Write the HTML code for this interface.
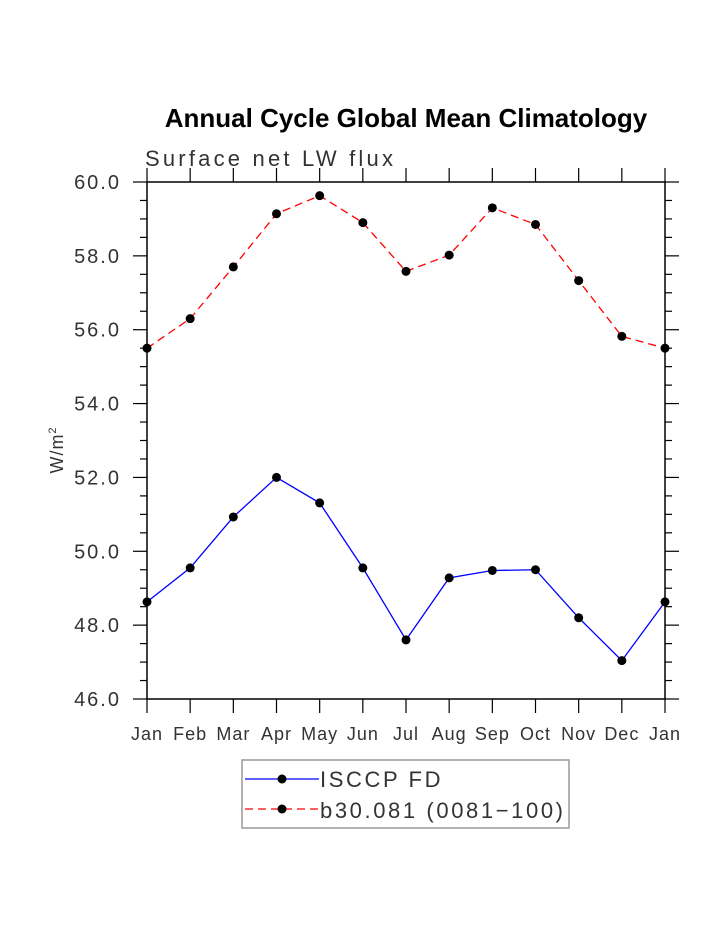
<!DOCTYPE html>
<html><head><meta charset="utf-8"><style>
body{margin:0;background:#fff}
svg text{font-family:"Liberation Sans","DejaVu Sans",sans-serif}
</style></head><body>
<svg id="chart" width="723" height="935" xmlns="http://www.w3.org/2000/svg">
<text x="406" y="127" text-anchor="middle" font-size="26" font-weight="bold">Annual Cycle Global Mean Climatology</text>
<text x="145" y="166" font-size="22" fill="#333" style="letter-spacing:3.2px">Surface net LW flux</text>
<text transform="translate(63,450) rotate(-90)" text-anchor="middle" font-size="18" fill="#333" style="letter-spacing:1px">W/m<tspan dy="-7" font-size="11">2</tspan></text>
<g id="axes"></g>
<g id="series"></g>
<rect x="242" y="760" width="327" height="68" fill="none" stroke="#999" stroke-width="1.5"/>
<g>
<line x1="245" y1="779" x2="319" y2="779" stroke="#00f" stroke-width="1.3"/>
<circle cx="282" cy="779" r="4.5" fill="#000"/>
<text x="320" y="787" font-size="22" fill="#333" style="letter-spacing:2.6px">ISCCP FD</text></g>
<g>
<line x1="245" y1="809" x2="319" y2="809" stroke="#f00" stroke-width="1.3" stroke-dasharray="8,5"/>
<circle cx="282" cy="809" r="4.5" fill="#000"/>
<text x="320" y="818" font-size="22" fill="#333" style="letter-spacing:2.6px">b30.081 (0081−100)</text></g>
</svg>
<script>
const months=["Jan","Feb","Mar","Apr","May","Jun","Jul","Aug","Sep","Oct","Nov","Dec","Jan"];
const isccp=[48.63,49.55,50.93,52.0,51.31,49.55,47.6,49.28,49.48,49.5,48.2,47.04,48.63];
const b30=[55.5,56.3,57.7,59.14,59.63,58.9,57.58,58.02,59.3,58.85,57.33,55.82,55.5];
const yTicks=[46,48,50,52,54,56,58,60];
const NS="http://www.w3.org/2000/svg";
const X0=147,X1=665,Y0=699,Y1=182,YMIN=46,YMAX=60;
const xs=i=>X0+(X1-X0)*i/(months.length-1);
const ys=v=>Y0-(v-YMIN)/(YMAX-YMIN)*(Y0-Y1);
function mk(t,a,p){const e=document.createElementNS(NS,t);for(const k in a)e.setAttribute(k,a[k]);p.appendChild(e);return e;}
const ax=document.getElementById('axes');
const fr=mk('rect',{x:X0,y:Y1,width:X1-X0,height:Y0-Y1,fill:'none',stroke:'#000','stroke-width':1.5},ax);


for(let v=YMIN;v<=YMAX+1e-9;v+=0.5){const maj=Math.abs(v/2-Math.round(v/2))<1e-9;const L=maj?14:7;
mk('line',{x1:X0-L,x2:X0,y1:ys(v),y2:ys(v),stroke:'#000','stroke-width':1.2},ax);
mk('line',{x1:X1,x2:X1+L,y1:ys(v),y2:ys(v),stroke:'#000','stroke-width':1.2},ax);}
yTicks.forEach(v=>{const t=mk('text',{x:121,y:ys(v)+7,'text-anchor':'end','font-size':20,fill:'#333',style:'letter-spacing:2px'},ax);t.textContent=v.toFixed(1);

});
months.forEach((m,i)=>{const x=xs(i);
mk('line',{x1:x,x2:x,y1:Y1-14,y2:Y1,stroke:'#000','stroke-width':1.2},ax);
mk('line',{x1:x,x2:x,y1:Y0,y2:Y0+14,stroke:'#000','stroke-width':1.2},ax);
const t=mk('text',{x:x,y:740,'text-anchor':'middle','font-size':18,fill:'#333',style:'letter-spacing:1px'},ax);t.textContent=m;

});
const sg=document.getElementById('series');
function series(vals,color,dash,name){
const g=mk('g',{},sg);


const pts=vals.map((v,i)=>xs(i)+','+ys(v)).join(' ');
const a={points:pts,fill:'none',stroke:color,'stroke-width':1.3};if(dash)a['stroke-dasharray']=dash;
mk('polyline',a,g);
vals.forEach((v,i)=>{const c=mk('circle',{cx:xs(i),cy:ys(v),r:4.5,fill:'#000'},g);

});}
series(isccp,'#00f',null,'series-isccp');
series(b30,'#f00','8,5','series-b30');
</script>
</body></html>
